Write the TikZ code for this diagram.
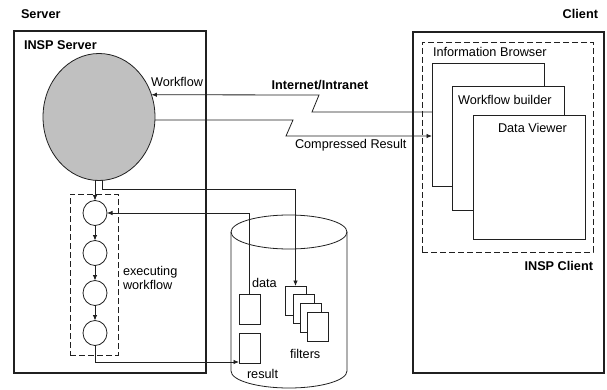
\documentclass[tikz,border=0pt]{standalone}
\usepackage{fontspec}
\setmainfont{Liberation Sans}
\usetikzlibrary{arrows.meta,shapes.geometric}
\definecolor{blobgray}{HTML}{C0C0C0}
\definecolor{ink}{HTML}{202020}
\begin{document}
\begin{tikzpicture}[x=1pt,y=-1pt,
  font=\fontsize{12.7}{13.5}\selectfont,
  every node/.style={inner sep=0pt, outer sep=0pt},
  lbl/.style={font=\fontsize{12.7}{13.5}\selectfont},
  blbl/.style={font=\fontsize{12.7}{13.5}\selectfont\bfseries},
  outerbox/.style={draw=ink, line width=1.6pt, anchor=north west},
  dashbox/.style={draw=ink, line width=0.8pt, dash pattern=on 6pt off 3pt, anchor=north west},
  winbox/.style={draw=ink, line width=0.8pt, fill=white, anchor=north west},
  docbox/.style={draw=ink, line width=0.8pt, fill=white, anchor=north west, minimum width=21pt, minimum height=29pt},
  stepcirc/.style={ellipse, draw=ink, line width=0.8pt, fill=white, minimum width=24pt, minimum height=25pt},
  conn/.style={draw=ink, line width=0.8pt},
  arr/.style={conn, -{Latex[length=5.5pt,width=4.5pt]}}
]
\useasboundingbox (0,0) rectangle (607,390);

% top labels
\node[blbl, anchor=west] (serverlbl) at (21,14) {Server};
\node[blbl, anchor=east] (clientlbl) at (598,14) {Client};

% server side
\node[outerbox, minimum width=192pt, minimum height=342pt] (srv) at (14,31) {};
\node[blbl, anchor=west] (srvlbl) at (24,45) {INSP Server};
\node[ellipse, draw=ink, line width=0.8pt, fill=blobgray, minimum width=112pt, minimum height=127pt] (wf) at (99,117) {};
\node[lbl, anchor=west] (wflbl) at (151,82) {Workflow};

% executing workflow
\node[dashbox, minimum width=48pt, minimum height=161pt] (exec) at (70,194) {};
\node[stepcirc] (c1) at (95,213) {};
\node[stepcirc] (c2) at (95,253) {};
\node[stepcirc] (c3) at (95,293) {};
\node[stepcirc] (c4) at (95,333) {};
\node[lbl, anchor=west, align=left] (execlbl) at (123,278) {executing\\workflow};

% database cylinder
\draw[ink, line width=0.8pt] (231,232) -- (231,371) arc[start angle=180, end angle=360, x radius=58, y radius=-17] -- (347,232);
\draw[ink, line width=0.8pt] (289,232) ellipse[x radius=58, y radius=17];

\node[docbox, minimum height=30pt] (data) at (239,294) {};
\node[docbox, minimum height=30pt] (result) at (239,333) {};
\node[lbl, anchor=west] (datalbl) at (252,283) {data};
\node[lbl, anchor=west] (resultlbl) at (247,374) {result};
\node[docbox] (f1) at (285,286) {};
\node[docbox] (f2) at (293,294) {};
\node[docbox] (f3) at (300,303) {};
\node[docbox] (f4) at (307,312) {};
\node[lbl, anchor=west] (filterslbl) at (290,354) {filters};

% client side
\node[outerbox, minimum width=191pt, minimum height=341pt] (cli) at (413,32) {};
\node[dashbox, minimum width=171pt, minimum height=210pt] (insp) at (422,42) {};
\node[blbl, anchor=east] (insplbl) at (593,266) {INSP Client};
\node[winbox, minimum width=112pt, minimum height=123pt] (ib) at (432,63) {};
\node[lbl, anchor=west] (iblbl) at (433,52) {Information Browser};
\node[winbox, minimum width=112pt, minimum height=124pt] (wb) at (452,86) {};
\node[lbl, anchor=west] (wblbl) at (458,100) {Workflow builder};
\node[winbox, minimum width=112pt, minimum height=124pt] (dv) at (473,115) {};
\node[lbl, anchor=west] (dvlbl) at (498,128) {Data Viewer};

% network links
\coordinate (wa) at (312,112);
\coordinate (wb1) at (319,95);
\draw[arr] (ib.west |- wa) -- (wa) -- (wb1) -- (wf.23);
\coordinate (ca) at (293,120);
\coordinate (cb) at (286,136);
\draw[arr] (wf.-3) -- (ca) -- (cb) -- (ib.west |- cb);
\node[blbl] (netlbl) at (320,85) {Internet/Intranet};
\node[lbl, anchor=west] (crlbl) at (295,145) {Compressed Result};

% workflow execution links
\draw[arr] (wf.south -| c1) -- (c1.north);
\draw[arr] (c1) -- (c2);
\draw[arr] (c2) -- (c3);
\draw[arr] (c3) -- (c4);
\coordinate (fl) at (102,189);
\draw[arr] ([xshift=3pt]wf.south) -- (fl) -- (fl -| f1.north) -- (f1.north);
\coordinate (dl) at (249,213);
\draw[arr] ([xshift=-0.5pt]data.north) -- ([xshift=-0.5pt]data.north |- dl) -- (c1.east);
\coordinate (rl) at (95,362);
\draw[arr] (c4.south) -- (rl) -- (rl -| result.west);
\end{tikzpicture}
\end{document}
